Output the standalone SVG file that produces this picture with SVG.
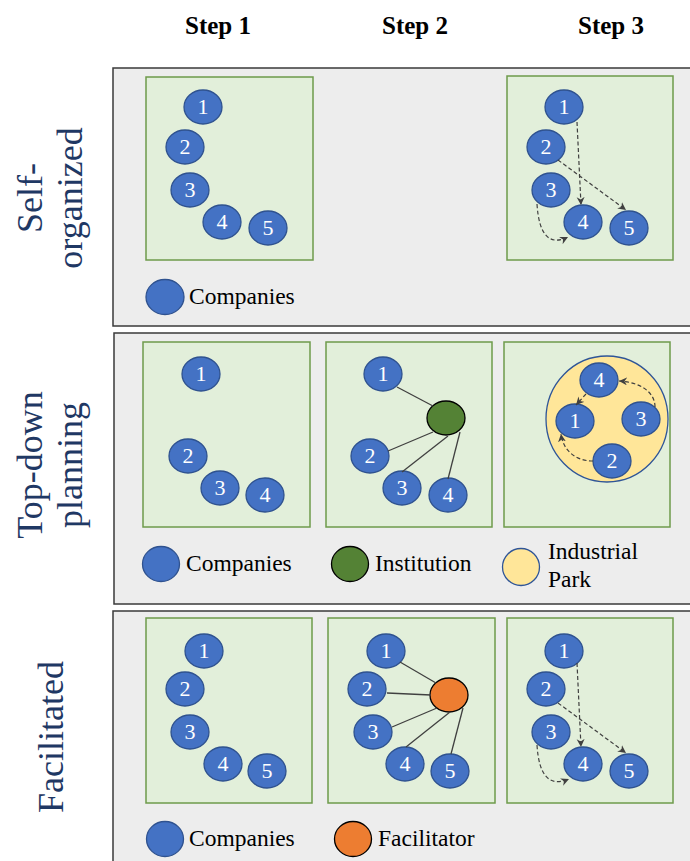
<svg xmlns="http://www.w3.org/2000/svg" width="690" height="861" viewBox="0 0 690 861">
<defs>
<style>
.row{fill:#EDEDED;stroke:#3A3A3A;stroke-width:1.5}
.box{fill:#E2EFDA;stroke:#6E9B4B;stroke-width:1.5}
.co{fill:#4472C4;stroke:#2F528F;stroke-width:1.3}
text{font-family:"Liberation Serif","Times New Roman",Times,"DejaVu Serif",serif}
.num{font-size:22px;fill:#FFFFFF;text-anchor:middle}
.hd{font-size:25px;font-weight:bold;fill:#000;text-anchor:middle}
.lg{font-size:23.5px;fill:#000}
.rl{font-size:36px;fill:#1F3864;text-anchor:middle}
.ln{stroke:#404040;stroke-width:1.3;fill:none}
.da{stroke:#404040;stroke-width:1.2;fill:none;stroke-dasharray:4 2.5;marker-end:url(#ah)}
</style>
<marker id="ah" markerUnits="userSpaceOnUse" markerWidth="10" markerHeight="10" refX="8" refY="4" orient="auto">
<path d="M0,0 L8,4 L0,8 L2.5,4 z" fill="#404040"/>
</marker>
</defs>

<g id="headers" font-family="Liberation Serif, serif">
<text class="hd" x="218" y="34">Step 1</text>
<text class="hd" x="415" y="34">Step 2</text>
<text class="hd" x="611" y="34">Step 3</text>
</g>

<g id="row-labels" font-family="Liberation Serif, serif">
<text class="rl" transform="translate(42,198) rotate(-90)">Self-</text>
<text class="rl" transform="translate(82,198) rotate(-90)">organized</text>
<text class="rl" transform="translate(42,465) rotate(-90)">Top-down</text>
<text class="rl" transform="translate(82,465) rotate(-90)">planning</text>
<text class="rl" transform="translate(63,737) rotate(-90)">Facilitated</text>
</g>

<g id="panels">
<rect class="row" x="113" y="68" width="585" height="258"/>
<rect class="row" x="114" y="333" width="584" height="271"/>
<rect class="row" x="113" y="611" width="585" height="260"/>
</g>

<!-- Row 1 -->
<g id="r1-step1">
<rect class="box" x="146" y="77" width="167" height="183"/>
<ellipse class="co" cx="203" cy="107" rx="19" ry="17"/><text class="num" x="203" y="114">1</text>
<ellipse class="co" cx="185" cy="147" rx="19" ry="17"/><text class="num" x="185" y="154">2</text>
<ellipse class="co" cx="190" cy="190" rx="19" ry="17"/><text class="num" x="190" y="197">3</text>
<ellipse class="co" cx="222" cy="222" rx="19" ry="17"/><text class="num" x="222" y="229">4</text>
<ellipse class="co" cx="268" cy="228" rx="19" ry="17"/><text class="num" x="268" y="235">5</text>
</g>
<g id="r1-step3">
<rect class="box" x="507" y="76" width="166" height="184"/>
<ellipse class="co" cx="564" cy="107" rx="19" ry="17"/><text class="num" x="564" y="114">1</text>
<ellipse class="co" cx="546" cy="147" rx="19" ry="17"/><text class="num" x="546" y="154">2</text>
<ellipse class="co" cx="551" cy="190" rx="19" ry="17"/><text class="num" x="551" y="197">3</text>
<ellipse class="co" cx="583" cy="222" rx="19" ry="17"/><text class="num" x="583" y="229">4</text>
<ellipse class="co" cx="629" cy="228" rx="19" ry="17"/><text class="num" x="629" y="235">5</text>
</g>
<g id="r1-legend">
<ellipse class="co" cx="165" cy="297" rx="19" ry="17.5"/>
<text class="lg" x="189" y="304">Companies</text>
</g>

<!-- Row 2 -->
<g id="r2-step1">
<rect class="box" x="143" y="342" width="167" height="185"/>
<ellipse class="co" cx="201" cy="374" rx="19" ry="17"/><text class="num" x="201" y="381">1</text>
<ellipse class="co" cx="188" cy="456" rx="19" ry="17"/><text class="num" x="188" y="463">2</text>
<ellipse class="co" cx="220" cy="488" rx="19" ry="17"/><text class="num" x="220" y="495">3</text>
<ellipse class="co" cx="265" cy="495" rx="19" ry="17"/><text class="num" x="265" y="502">4</text>
</g>
<g id="r2-step2">
<rect class="box" x="326" y="342" width="166" height="185"/>
<ellipse class="co" cx="383" cy="374" rx="19" ry="17"/><text class="num" x="383" y="381">1</text>
<ellipse class="co" cx="370" cy="456" rx="19" ry="17"/><text class="num" x="370" y="463">2</text>
<ellipse class="co" cx="402" cy="488" rx="19" ry="17"/><text class="num" x="402" y="495">3</text>
<ellipse class="co" cx="448" cy="495" rx="19" ry="17"/><text class="num" x="448" y="502">4</text>
</g>
<g id="r2-institution">
<ellipse cx="446" cy="418" rx="19" ry="17" fill="#548235" stroke="#000" stroke-width="1.3"/>
</g>
<g id="r2-step3">
<rect class="box" x="504" y="342" width="166" height="185"/>
<ellipse cx="607" cy="419" rx="61" ry="63" fill="#FFE699" stroke="#2F5597" stroke-width="1.3"/>
<ellipse class="co" cx="599" cy="380" rx="19" ry="17"/><text class="num" x="599" y="387">4</text>
<ellipse class="co" cx="575" cy="421" rx="19" ry="17"/><text class="num" x="575" y="428">1</text>
<ellipse class="co" cx="641" cy="419" rx="19" ry="17"/><text class="num" x="641" y="426">3</text>
<ellipse class="co" cx="612" cy="461" rx="19" ry="17"/><text class="num" x="612" y="468">2</text>
</g>
<g id="r2-legend">
<ellipse class="co" cx="161" cy="564" rx="18.5" ry="17.5"/>
<text class="lg" x="186" y="571">Companies</text>
<ellipse cx="350" cy="564" rx="18.5" ry="17.5" fill="#548235" stroke="#000" stroke-width="1.3"/>
<text class="lg" x="375" y="571">Institution</text>
<ellipse cx="521" cy="567" rx="18.5" ry="18.5" fill="#FFE699" stroke="#2F5597" stroke-width="1.3"/>
<text class="lg" x="548" y="559">Industrial</text>
<text class="lg" x="548" y="587">Park</text>
</g>

<!-- Row 3 -->
<g id="r3-step1">
<rect class="box" x="146" y="618" width="166" height="185"/>
<ellipse class="co" cx="204" cy="651" rx="19" ry="17"/><text class="num" x="204" y="658">1</text>
<ellipse class="co" cx="185" cy="689" rx="19" ry="17"/><text class="num" x="185" y="696">2</text>
<ellipse class="co" cx="190" cy="732" rx="19" ry="17"/><text class="num" x="190" y="739">3</text>
<ellipse class="co" cx="223" cy="764" rx="19" ry="17"/><text class="num" x="223" y="771">4</text>
<ellipse class="co" cx="267" cy="771" rx="19" ry="17"/><text class="num" x="267" y="778">5</text>
</g>
<g id="r3-step2">
<rect class="box" x="328" y="618" width="167" height="185"/>
<ellipse class="co" cx="386" cy="651" rx="19" ry="17"/><text class="num" x="386" y="658">1</text>
<ellipse class="co" cx="367" cy="689" rx="19" ry="17"/><text class="num" x="367" y="696">2</text>
<ellipse class="co" cx="373" cy="732" rx="19" ry="17"/><text class="num" x="373" y="739">3</text>
<ellipse class="co" cx="405" cy="764" rx="19" ry="17"/><text class="num" x="405" y="771">4</text>
<ellipse class="co" cx="450" cy="771" rx="19" ry="17"/><text class="num" x="450" y="778">5</text>
</g>
<g id="r3-facilitator">
<ellipse cx="449" cy="695" rx="19" ry="17" fill="#ED7D31" stroke="#000" stroke-width="1.3"/>
</g>
<g id="r3-step3">
<rect class="box" x="507" y="618" width="166" height="185"/>
<ellipse class="co" cx="564" cy="651" rx="19" ry="17"/><text class="num" x="564" y="658">1</text>
<ellipse class="co" cx="546" cy="689" rx="19" ry="17"/><text class="num" x="546" y="696">2</text>
<ellipse class="co" cx="551" cy="732" rx="19" ry="17"/><text class="num" x="551" y="739">3</text>
<ellipse class="co" cx="583" cy="764" rx="19" ry="17"/><text class="num" x="583" y="771">4</text>
<ellipse class="co" cx="629" cy="771" rx="19" ry="17"/><text class="num" x="629" y="778">5</text>
</g>
<g id="r3-legend">
<ellipse class="co" cx="165" cy="839" rx="18.5" ry="17.5"/>
<text class="lg" x="189" y="846">Companies</text>
<ellipse cx="353" cy="839" rx="18.5" ry="17.5" fill="#ED7D31" stroke="#000" stroke-width="1.3"/>
<text class="lg" x="378" y="846">Facilitator</text>
</g>

<g id="connectors">
<path class="da" d="M577,122 L581,205"/>
<path class="da" d="M558,160 L626,210"/>
<path class="da" d="M537,204 C539,236 550,246 568,237"/>
<path class="ln" d="M397,387 L433,406"/>
<path class="ln" d="M388,451 L433,432"/>
<path class="ln" d="M402,472 L448,436"/>
<path class="ln" d="M448,479 L460,432"/>
<path class="da" d="M655,407 C655,392 640,382 619,381"/>
<path class="da" d="M586,394 L576,405"/>
<path class="da" d="M593,461 C575,461 563,450 561,434"/>
<path class="ln" d="M400,662 L436,683"/>
<path class="ln" d="M387,693 L431,695"/>
<path class="ln" d="M392,727 L437,708"/>
<path class="ln" d="M406,747 L450,712"/>
<path class="ln" d="M451,754 L463,708"/>
<path class="da" d="M577,663 L581,747"/>
<path class="da" d="M558,703 L626,753"/>
<path class="da" d="M537,745 C539,777 550,787 569,779"/>
</g>
</svg>
